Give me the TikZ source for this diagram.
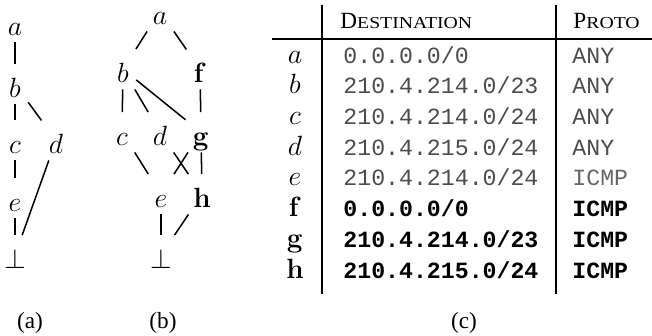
\documentclass[tikz,border=0pt]{standalone}
\usepackage[no-math]{fontspec}
\setmainfont{Liberation Serif}
\setmonofont{Liberation Mono}
\newfontfamily\scfont[FakeStretch=1.18]{Liberation Serif}
\newcommand\mysc[2]{#1{\scfont\fontsize{7.2pt}{9pt}\selectfont #2}}
\tikzset{
  lat/.style={inner sep=3pt, text height=11pt, text depth=0pt, anchor=base, font=\fontsize{11.5pt}{13pt}\selectfont},
  edge/.style={line width=0.65pt},
  rule/.style={line width=0.9pt},
  lbl/.style={inner sep=0pt, anchor=base, font=\fontsize{11.5pt}{13pt}\selectfont},
  cell/.style={inner sep=0pt, anchor=base west, font=\ttfamily, text=black!70},
  bcell/.style={inner sep=0pt, anchor=base west, font=\ttfamily\bfseries, text=black},
  captxt/.style={inner sep=0pt, anchor=base},
}
\begin{document}
\begin{tikzpicture}[x=0.431pt, y=-0.431pt]
\useasboundingbox (0,0) rectangle (652,335);
% ---------- (a)
\node[lat] (Aa) at (15,35) {$a$};
\node[lat] (Ab) at (15,97) {$b$};
\node[lat] (Ac) at (15,153) {$c$};
\node[lat] (Ad) at (56,153) {$d$};
\node[lat] (Ae) at (15,211) {$e$};
\node[lat] (Abot) at (15,268) {$\bot$};
\draw[edge] (Aa) -- (Ab);
\draw[edge] (Ab) -- (Ac);
\draw[edge] (Ab) -- (Ad);
\draw[edge] (Ac) -- (Ae);
\draw[edge] (Ae) -- (Abot);
\draw[edge] (Ad) -- (Abot);
% ---------- (b)
\node[lat] (Ba) at (160,24) {$a$};
\node[lat] (Bb) at (123,82) {$b$};
\node[lat] (Bf) at (200,82) {$\mathbf{f}$};
\node[lat] (Bc) at (122,145) {$c$};
\node[lat] (Bd) at (160,145) {$d$};
\node[lat] (Bg) at (201,145) {$\mathbf{g}$};
\node[lat] (Be) at (161,207) {$e$};
\node[lat] (Bh) at (202,207) {$\mathbf{h}$};
\node[lat] (Bbot) at (161,268) {$\bot$};
\draw[edge] (Ba) -- (Bb);
\draw[edge] (Ba) -- (Bf);
\draw[edge] (Bb) -- (Bc);
\draw[edge] (Bb) -- (Bd);
\draw[edge] (Bb) -- (Bg);
\draw[edge] (Bf) -- (Bg);
\draw[edge] (Bc) -- (Be);
\draw[edge] (Bd) -- (Bh);
\draw[edge] (Bg) -- (Be);
\draw[edge] (Bg) -- (Bh);
\draw[edge] (Be) -- (Bbot);
\draw[edge] (Bh) -- (Bbot);
% ---------- (c) table
\draw[rule] (322,5) -- (322,294);
\draw[rule] (556,5) -- (556,294);
\draw[rule] (272,39) -- (652,39);
\node[lbl, anchor=base west, font=\normalsize] (hdest) at (340,28) {\mysc{D}{ESTINATION}};
\node[lbl, anchor=base west, font=\normalsize] (hproto) at (573,28) {\mysc{P}{ROTO}};
\node[lbl] (ra) at (295,63) {$a$};
\node[lbl] (rb) at (295,93.7) {$b$};
\node[lbl] (rc) at (295,124.4) {$c$};
\node[lbl] (rd) at (295,155.1) {$d$};
\node[lbl] (re) at (295,185.8) {$e$};
\node[lbl] (rf) at (295,216.5) {$\mathbf{f}$};
\node[lbl] (rg) at (295,247.2) {$\mathbf{g}$};
\node[lbl] (rh) at (295,278) {$\mathbf{h}$};
\node[cell] (da) at (343,63) {0.0.0.0/0};
\node[cell] (db) at (343,93.7) {210.4.214.0/23};
\node[cell] (dc) at (343,124.4) {210.4.214.0/24};
\node[cell] (dd) at (343,155.1) {210.4.215.0/24};
\node[cell] (de) at (343,185.8) {210.4.214.0/24};
\node[bcell] (df) at (343,216.5) {0.0.0.0/0};
\node[bcell] (dg) at (343,247.2) {210.4.214.0/23};
\node[bcell] (dh) at (343,278) {210.4.215.0/24};
\node[cell] (pa) at (572,63) {ANY};
\node[cell] (pb) at (572,93.7) {ANY};
\node[cell] (pc) at (572,124.4) {ANY};
\node[cell] (pd) at (572,155.1) {ANY};
\node[cell, text=black!60] (pe) at (572,185.8) {ICMP};
\node[bcell] (pf) at (572,216.5) {ICMP};
\node[bcell] (pg) at (572,247.2) {ICMP};
\node[bcell] (ph) at (572,278) {ICMP};
% ---------- captions
\node[captxt] (capa) at (30,328) {(a)};
\node[captxt] (capb) at (163,328) {(b)};
\node[captxt] (capc) at (464,328) {(c)};
\end{tikzpicture}
\end{document}
